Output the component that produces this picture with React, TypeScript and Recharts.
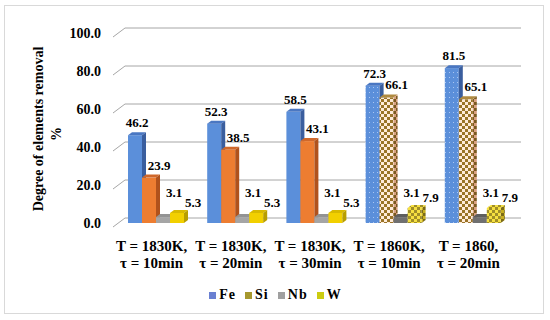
import React from 'react';
import { BarChart, Bar, XAxis, YAxis, CartesianGrid, Legend, LabelList } from 'recharts';

// conditions (two lines per tick)
const conditionTop = ['T = 1830K,', 'T = 1830K,', 'T = 1830K,', 'T = 1860K,', 'T = 1860,'];
const conditionBottom = ['τ = 10min', 'τ = 20min', 'τ = 30min', 'τ = 10min', 'τ = 20min'];

// degree of removal, %
const feValues = [46.2, 52.3, 58.5, 72.3, 81.5];
const siValues = [23.9, 38.5, 43.1, 66.1, 65.1];
const nbValues = [3.1, 3.1, 3.1, 3.1, 3.1];
const wValues = [5.3, 5.3, 5.3, 7.9, 7.9];

const yTicks = [0, 20, 40, 60, 80, 100];

const chartData = conditionTop.map((top, i) => ({
  name: top + ' ' + conditionBottom[i],
  Fe: feValues[i],
  Si: siValues[i],
  Nb: nbValues[i],
  W: wValues[i],
}));

const FONT = '"Liberation Serif", "Times New Roman", serif';
const DX = 4;
const DY = 3;
const SHIFT = 4;

type Faces = { front: string; top: string; side: string; pFront: string; pTop: string; pSide: string };

const faces: Record<string, Faces> = {
  Fe: { front: '#5B8FDA', top: '#4A77C2', side: '#3A5E9E', pFront: 'url(#feDots)', pTop: '#4A77C2', pSide: '#3A5E9E' },
  Si: { front: '#ED7D31', top: '#D0682A', side: '#B0521C', pFront: 'url(#siCheck)', pTop: '#B08A40', pSide: 'url(#siCheckDark)' },
  Nb: { front: '#A5A5A5', top: '#939393', side: '#7E7E7E', pFront: '#707070', pTop: '#5E5E5E', pSide: '#555555' },
  W: { front: '#F2D000', top: '#D9BA00', side: '#B89E00', pFront: 'url(#wCheck)', pTop: 'url(#wCheck)', pSide: 'url(#wCheckDark)' },
};

const labelOffset: Record<string, { dx: number; dy: number }> = {
  Fe: { dx: 0, dy: -8 },
  Si: { dx: 8, dy: -8 },
  Nb: { dx: 9, dy: -20 },
  W: { dx: 14, dy: -6 },
};

const legendColors: Record<string, string> = { Fe: '#6A80D2', Si: '#A6982E', Nb: '#A0A0A0', W: '#CCCC10' };

function makeShape(key: string) {
  return (props: any) => {
    const { x, y, width, height, index } = props;
    const f = faces[key];
    const patterned = index >= 3;
    const sx = x + SHIFT;
    const front = patterned ? f.pFront : f.front;
    const top = patterned ? f.pTop : f.top;
    const side = patterned ? f.pSide : f.side;
    return (
      <g>
        <rect x={sx} y={y} width={width} height={height} fill={front} />
        <polygon
          points={`${sx},${y} ${sx + DX},${y - DY} ${sx + width + DX},${y - DY} ${sx + width},${y}`}
          fill={top}
        />
        <polygon
          points={`${sx + width},${y} ${sx + width + DX},${y - DY} ${sx + width + DX},${y + height - DY} ${sx + width},${y + height}`}
          fill={side}
        />
      </g>
    );
  };
}

function makeLabel(key: string) {
  return (props: any) => {
    const { x, y, width, value } = props;
    const o = labelOffset[key];
    return (
      <text
        x={x + SHIFT + width / 2 + DX / 2 + o.dx}
        y={y + o.dy}
        textAnchor="middle"
        fontFamily={FONT}
        fontWeight="bold"
        fontSize={13}
        fill="#000"
      >
        {Number(value).toFixed(1)}
      </text>
    );
  };
}

const gridLine = (props: any) => {
  const { x1, x2, y1, key } = props;
  return (
    <path
      key={key}
      d={`M${x1 + 1},${y1 + 4} L${x1 + 13},${y1 - 5} L${x2 + 13},${y1 - 5}`}
      stroke="#A6A6A6"
      strokeWidth={1}
      fill="none"
    />
  );
};

const YTick = (props: any) => {
  const { y, payload } = props;
  return (
    <text x={101} y={y + 5} textAnchor="end" fontFamily={FONT} fontWeight="bold" fontSize={14} fill="#000">
      {Number(payload.value).toFixed(1)}
    </text>
  );
};

const XTick = (props: any) => {
  const { x, index } = props;
  return (
    <g>
      <text x={x} y={251} textAnchor="middle" fontFamily={FONT} fontWeight="bold" fontSize={15} fill="#000">
        {conditionTop[index]}
      </text>
      <text x={x} y={268} textAnchor="middle" fontFamily={FONT} fontWeight="bold" fontSize={15} fill="#000">
        {conditionBottom[index]}
      </text>
    </g>
  );
};

const YTitle = () => (
  <g>
    <text
      x={38}
      y={129}
      transform="rotate(-90 38 129)"
      textAnchor="middle"
      dominantBaseline="central"
      fontFamily={FONT}
      fontWeight="bold"
      fontSize={14}
      fill="#000"
    >
      Degree of elements removal
    </text>
    <text
      x={56}
      y={134}
      transform="rotate(-90 56 134)"
      textAnchor="middle"
      dominantBaseline="central"
      fontFamily={FONT}
      fontWeight="bold"
      fontSize={14}
      fill="#000"
    >
      %
    </text>
  </g>
);

const LegendContent = () => (
  <div
    style={{
      display: 'flex',
      justifyContent: 'center',
      alignItems: 'center',
      height: 20,
      fontFamily: FONT,
      fontWeight: 'bold',
      fontSize: 14,
      paddingLeft: 52,
    }}
  >
    {['Fe', 'Si', 'Nb', 'W'].map((k) => (
      <span key={k} style={{ display: 'flex', alignItems: 'center', marginRight: 9 }}>
        <span style={{ display: 'inline-block', width: 7, height: 7, background: legendColors[k], marginRight: 3 }} />
        <span style={{ letterSpacing: 1 }}>{k}</span>
      </span>
    ))}
  </div>
);

export default function App() {
  return (
    <div style={{ position: 'absolute', left: 0, top: 0, width: 550, height: 320, background: '#fff' }}>
      <div
        style={{
          position: 'absolute',
          left: 4,
          top: 5,
          width: 538,
          height: 307,
          border: '1px solid #D9D9D9',
        }}
      />
      <div style={{ position: 'absolute', left: 0, top: 0 }}>
        <BarChart
          width={550}
          height={320}
          data={chartData}
          margin={{ top: 33, right: 42, bottom: 15, left: 0 }}
          barSize={14}
          barGap={0}
        >
          <defs>
            <pattern id="feDots" width="4" height="5" patternUnits="userSpaceOnUse">
              <rect width="4" height="5" fill="#5B8FDA" />
              <rect x="1" y="2" width="1" height="1" fill="#A9C6F2" />
            </pattern>
            <pattern id="siCheck" width="6" height="6" patternUnits="userSpaceOnUse">
              <rect width="6" height="6" fill="#FFEBD9" />
              <rect width="3" height="3" fill="#9A7428" />
              <rect x="3" y="3" width="3" height="3" fill="#9A7428" />
            </pattern>
            <pattern id="siCheckDark" width="6" height="6" patternUnits="userSpaceOnUse">
              <rect width="6" height="6" fill="#D8A080" />
              <rect width="3" height="3" fill="#7A5A20" />
              <rect x="3" y="3" width="3" height="3" fill="#7A5A20" />
            </pattern>
            <pattern id="wCheck" width="6" height="6" patternUnits="userSpaceOnUse">
              <rect width="6" height="6" fill="#F6E040" />
              <rect width="3" height="3" fill="#A08E28" />
              <rect x="3" y="3" width="3" height="3" fill="#A08E28" />
            </pattern>
            <pattern id="wCheckDark" width="6" height="6" patternUnits="userSpaceOnUse">
              <rect width="6" height="6" fill="#C8B020" />
              <rect width="3" height="3" fill="#7A6A18" />
              <rect x="3" y="3" width="3" height="3" fill="#7A6A18" />
            </pattern>
          </defs>
          <CartesianGrid vertical={false} horizontal={gridLine} />
          <XAxis dataKey="name" axisLine={false} tickLine={false} height={62} tick={<XTick />} interval={0} />
          <YAxis
            domain={[0, 100]}
            ticks={yTicks}
            width={112}
            axisLine={false}
            tickLine={false}
            tick={<YTick />}
            label={{ content: <YTitle /> }}
          />
          <Legend verticalAlign="bottom" content={<LegendContent />} />
          {['Fe', 'Si', 'Nb', 'W'].map((k) => (
            <Bar key={k} dataKey={k} fill={faces[k].front} shape={makeShape(k)} isAnimationActive={false}>
              <LabelList dataKey={k} content={makeLabel(k)} />
            </Bar>
          ))}
        </BarChart>
      </div>
    </div>
  );
}
